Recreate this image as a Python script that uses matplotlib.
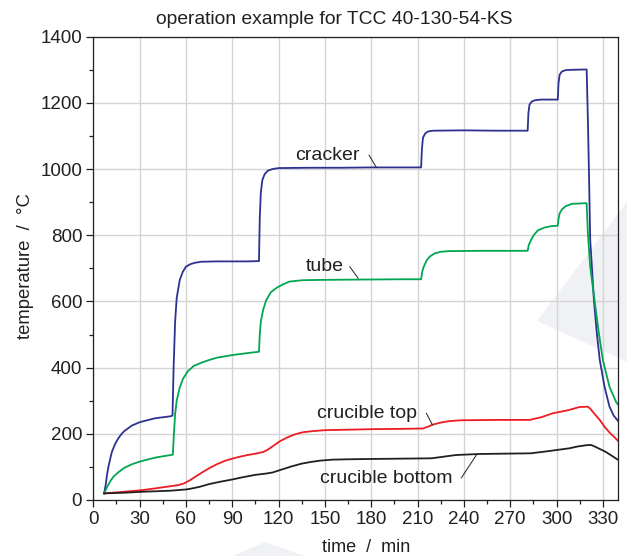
import matplotlib
matplotlib.use("Agg")
import matplotlib.pyplot as plt
from matplotlib.patches import Polygon
from matplotlib.ticker import MultipleLocator

plt.rcParams['font.family'] = ['Liberation Sans', 'DejaVu Sans']

# ---- data ----
cracker_t = [7, 8, 9, 10, 11, 12, 14, 16, 18, 20, 25, 30, 40, 50, 51.3, 52, 53, 54, 56, 58, 60, 63, 66, 70, 80,
             100, 107.3, 107.8, 108.5, 109.5, 111, 113, 116, 120, 140, 160, 180, 200, 212.3, 212.8, 213.5, 215,
             217, 220, 240, 260, 281.3, 281.8, 282.5, 284, 286, 290, 300.8, 301.3, 302, 303.5, 306, 310, 319.5,
             320.3, 321, 321.8, 322.9, 324.2, 326.1, 328, 331.1, 334.3, 337, 340]
cracker_y = [20, 45, 80, 105, 125, 145, 168, 185, 198, 208, 225, 235, 247, 253, 255, 400, 540, 610, 665, 690, 705,
             713, 717, 720, 721, 721, 722, 850, 930, 967, 985, 995, 1000, 1003, 1004, 1004, 1005, 1005, 1005, 1060,
             1095, 1108, 1114, 1116, 1117, 1116, 1116, 1170, 1195, 1204, 1208, 1210, 1210, 1260, 1285, 1295, 1299,
             1300, 1301, 1150, 990, 786, 705, 604, 504, 423, 342, 282, 255, 238]

tube_t = [7, 9, 11, 13, 16, 20, 25, 30, 35, 40, 45, 51.5, 52.2, 53, 54, 56, 58, 61, 65, 70, 75, 80, 90, 100, 107.3,
          107.8, 108.5, 110, 112, 115, 119, 123, 127, 135, 145, 170, 200, 212.3, 213, 214, 216, 218, 221, 225, 230,
          250, 281.3, 282, 283.5, 285.5, 288, 292, 296, 300.8, 301.3, 302, 303.5, 306, 310, 319.5, 320.3, 321.8,
          324.6, 327.4, 330, 334.3, 338.7, 340]
tube_y = [20, 40, 57, 70, 83, 97, 108, 116, 122, 128, 132, 137, 200, 260, 300, 340, 365, 388, 405, 415, 423, 430,
          438, 444, 448, 500, 540, 575, 604, 628, 642, 652, 660, 664, 665, 666, 667, 667, 690, 705, 725, 736, 745,
          750, 752, 753, 753, 770, 786, 802, 815, 823, 827, 829, 850, 866, 878, 888, 895, 897, 806, 705, 604, 504,
          423, 342, 295, 288]

top_t = [7, 15, 25, 32, 40, 47.5, 55, 58.7, 62, 66, 70, 75, 80, 85, 90, 95, 100, 105, 110, 113, 117, 121, 126, 131,
         136, 142, 150, 160, 180, 200, 213.5, 217, 220, 225, 230, 235, 240, 260, 282.6, 290, 297.6, 303, 308, 314.9,
         320.3, 322, 325, 328, 331, 334.3, 337, 340]
top_y = [20, 23, 27, 30, 35, 40, 45, 50, 58, 70, 82, 96, 108, 118, 125, 131, 136, 140, 145, 152, 165, 178, 190, 199,
         205, 208, 211, 212, 214, 215, 216, 222, 228, 234, 238, 240, 241, 242, 242, 250, 262, 267, 272, 281, 282,
         275, 258, 242, 222, 204, 192, 178]

bottom_t = [7, 20, 32.4, 49.6, 60.4, 64, 69, 75, 82, 90, 97, 105, 112, 116, 122, 128, 135, 141, 147, 155, 165, 180,
            200, 219, 227, 235, 250, 265, 283, 292, 300, 308, 314, 320, 322.6, 325, 329, 332, 336, 340]
bottom_y = [20, 22, 25, 28, 32, 35, 40, 48, 55, 62, 69, 76, 80, 83, 92, 101, 110, 115, 119, 122, 123, 124, 125, 126,
            131, 136, 139, 140, 141, 146, 151, 156, 162, 166, 166, 161, 152, 145, 133, 121]

labels = ["cracker", "tube", "crucible top", "crucible bottom"]
label_xy = [(151.8, 1042), (150.2, 707), (177.4, 262), (189.8, 65.5)]
leader_start = [(178.6, 1042), (166.1, 705), (215.7, 262), (238.4, 67)]
leader_end = [(183.3, 1005), (171.5, 670), (219.6, 227), (248.1, 136)]

x_ticks = list(range(0, 331, 30))
y_ticks = list(range(0, 1401, 200))

# ---- figure ----
W, H = 627, 556
fig = plt.figure(figsize=(W / 100, H / 100), dpi=100)
fig.patch.set_facecolor('white')

def fxy(px, py):
    return (px / W, 1 - py / H)

ax = fig.add_axes([93.3 / W, 1 - 500 / H, (618.3 - 93.3) / W, (500 - 36.7) / H])
ax.set_facecolor('none')

wm = '#f0f1f4'
for verts in ([fxy(537, 321), fxy(645, 178), fxy(645, 370)],
              [fxy(265, 542), fxy(228, 558), fxy(310, 558)]):
    ax.add_patch(Polygon(verts, closed=True, transform=fig.transFigure, facecolor=wm,
                         edgecolor='none', zorder=0.2, clip_on=False))

dark = '#231f20'
ax.plot(cracker_t, cracker_y, color='#2e3192', lw=1.3, zorder=3)
ax.plot(tube_t, tube_y, color='#00a651', lw=1.3, zorder=3)
ax.plot(top_t, top_y, color='#ed1c24', lw=1.3, zorder=3)
ax.plot(bottom_t, bottom_y, color=dark, lw=1.3, zorder=3)

for lab, xy, s, e in zip(labels, label_xy, leader_start, leader_end):
    ax.text(xy[0], xy[1], lab, ha='center', va='center', fontsize=14, color=dark, zorder=4)
    ax.plot([s[0], e[0]], [s[1], e[1]], color=dark, lw=0.7, zorder=4)

ax.set_xlim(0, 340)
ax.set_ylim(0, 1400)
ax.set_xticks(x_ticks)
ax.set_yticks(y_ticks)
ax.xaxis.set_minor_locator(MultipleLocator(15))
ax.yaxis.set_minor_locator(MultipleLocator(100))
ax.tick_params(which='major', direction='out', length=5, width=0.9, color=dark, labelsize=13.5,
               labelcolor=dark, pad=3)
ax.tick_params(which='minor', direction='out', length=3, width=0.9, color=dark)
ax.grid(True, which='major', color='#d4d4d4', lw=1.0, zorder=1)
ax.set_axisbelow(True)
for sp in ax.spines.values():
    sp.set_color(dark)
    sp.set_linewidth(0.9)
    sp.set_zorder(5)

ax.set_xlabel("time  /  min", fontsize=13, color=dark, labelpad=6)
ax.xaxis.set_label_coords((365.8 - 93.3) / 525, -0.085)
ax.set_ylabel("temperature  /  °C", fontsize=13.3, color=dark)
ax.yaxis.set_label_coords(-0.113, 0.505)

fig.text(334 / W, 1 - 19 / H, "operation example for TCC 40-130-54-KS", ha='center', va='center',
         fontsize=13.9, color=dark)

fig.savefig("out.png", dpi=100)
